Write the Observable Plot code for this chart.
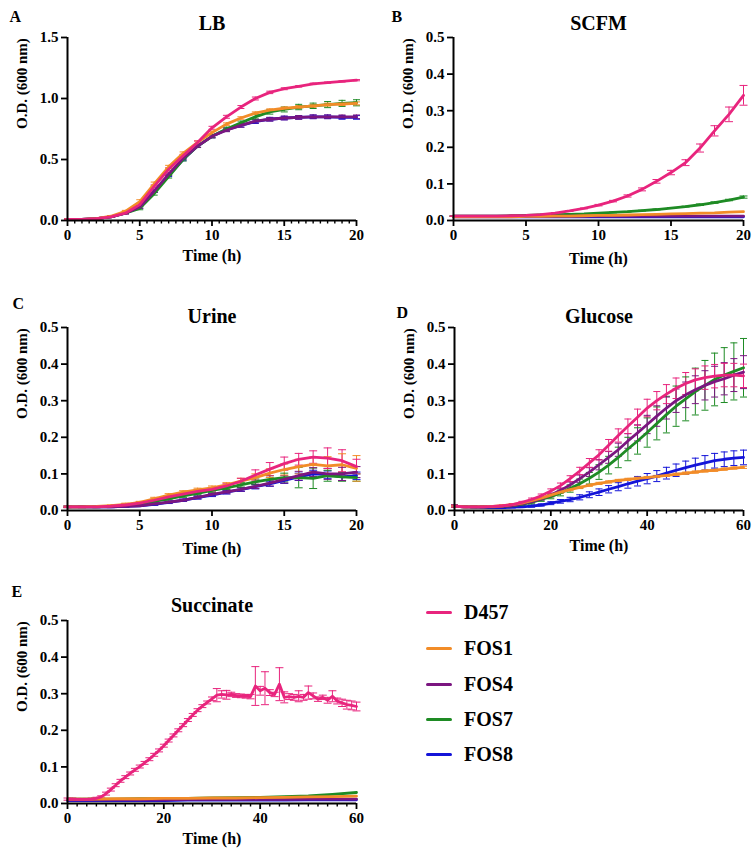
<!DOCTYPE html>
<html>
<head>
<meta charset="utf-8">
<script src="https://cdn.jsdelivr.net/npm/d3@7"></script>
<script src="https://cdn.jsdelivr.net/npm/@observablehq/plot@0.6"></script>
<style>
  html, body { margin: 0; padding: 0; background: #fff; }
  #root { position: relative; width: 752px; height: 853px; overflow: hidden; font-family: "Liberation Serif", "Times New Roman", Times, Tinos, "Nimbus Roman", "Nimbus Roman No9 L", "Noto Serif", "DejaVu Serif", FreeSerif, serif; font-weight: bold; color: #000; }
  .panel { position: absolute; }
  .legrow { position: absolute; left: 0; height: 24px; }
  .legline { position: absolute; left: 426px; width: 26px; height: 3px; border-radius: 2px; }
  .legtext { position: absolute; left: 464px; font-size: 20px; line-height: 24px; white-space: nowrap; font-weight: bold; }
</style>
</head>
<body>
<div id="root"></div>
<script>
// ---------- Data ----------
const series = ["D457", "FOS1", "FOS4", "FOS7", "FOS8"];
const seriesColors = ["#E8247D", "#F28C28", "#7B1680", "#1E8B24", "#1414D8"];

// Panel A: LB (hourly)
const tA = [0,1,2,3,4,5,6,7,8,9,10,11,12,13,14,15,16,17,18,19,20];
const A_D457 = [0.010,0.010,0.015,0.030,0.060,0.130,0.280,0.420,0.530,0.640,0.760,0.850,0.930,1.000,1.050,1.080,1.100,1.120,1.130,1.140,1.150];
const A_FOS1 = [0.010,0.010,0.015,0.035,0.075,0.155,0.300,0.440,0.550,0.640,0.720,0.790,0.840,0.880,0.905,0.920,0.930,0.940,0.950,0.955,0.960];
const A_FOS4 = [0.010,0.010,0.015,0.030,0.060,0.110,0.240,0.380,0.510,0.610,0.690,0.740,0.780,0.815,0.830,0.840,0.845,0.850,0.850,0.850,0.850];
const A_FOS7 = [0.010,0.010,0.015,0.030,0.060,0.100,0.220,0.360,0.500,0.610,0.690,0.750,0.800,0.850,0.890,0.910,0.930,0.940,0.950,0.960,0.965];
const A_FOS8 = [0.010,0.010,0.015,0.030,0.060,0.110,0.240,0.370,0.500,0.610,0.690,0.745,0.780,0.810,0.830,0.840,0.845,0.850,0.850,0.845,0.845];
const A_D457_err = [0.003,0.003,0.003,0.004,0.006,0.010,0.012,0.012,0.012,0.012,0.012,0.012,0.012,0.012,0.010,0.008,0.006,0.006,0.005,0.005,0.005];
const A_FOS1_err = [0.003,0.003,0.003,0.004,0.008,0.015,0.015,0.012,0.012,0.012,0.012,0.010,0.010,0.010,0.010,0.010,0.012,0.012,0.012,0.012,0.012];
const A_FOS4_err = [0.003,0.003,0.003,0.004,0.006,0.010,0.010,0.010,0.010,0.010,0.012,0.012,0.015,0.015,0.015,0.015,0.015,0.015,0.015,0.015,0.015];
const A_FOS7_err = [0.003,0.003,0.003,0.004,0.006,0.012,0.012,0.012,0.012,0.012,0.012,0.015,0.015,0.018,0.018,0.020,0.022,0.022,0.025,0.025,0.025];
const A_FOS8_err = [0.003,0.003,0.003,0.004,0.006,0.010,0.010,0.010,0.010,0.010,0.012,0.014,0.015,0.015,0.015,0.015,0.015,0.015,0.015,0.015,0.015];

// Panel B: SCFM (hourly)
const tB = [0,1,2,3,4,5,6,7,8,9,10,11,12,13,14,15,16,17,18,19,20];
const B_D457 = [0.012,0.012,0.012,0.012,0.013,0.014,0.016,0.020,0.026,0.033,0.042,0.053,0.067,0.085,0.107,0.131,0.158,0.198,0.245,0.290,0.342];
const B_FOS1 = [0.010,0.010,0.010,0.010,0.010,0.011,0.011,0.012,0.012,0.013,0.014,0.014,0.015,0.016,0.017,0.018,0.019,0.020,0.021,0.023,0.024];
const B_FOS4 = [0.012,0.012,0.012,0.012,0.012,0.012,0.012,0.012,0.012,0.012,0.012,0.012,0.012,0.012,0.012,0.012,0.012,0.012,0.012,0.012,0.012];
const B_FOS7 = [0.012,0.012,0.012,0.012,0.013,0.014,0.015,0.016,0.017,0.018,0.020,0.022,0.024,0.027,0.030,0.034,0.038,0.043,0.049,0.056,0.064];
const B_FOS8 = [0.010,0.010,0.010,0.010,0.010,0.010,0.010,0.010,0.010,0.010,0.010,0.010,0.010,0.010,0.010,0.010,0.010,0.010,0.010,0.010,0.010];
const B_D457_err = [0.001,0.001,0.001,0.001,0.001,0.001,0.001,0.001,0.001,0.001,0.002,0.002,0.003,0.004,0.005,0.006,0.008,0.011,0.014,0.020,0.027];
const B_FOS7_err = [0.001,0.001,0.001,0.001,0.001,0.001,0.001,0.001,0.001,0.001,0.001,0.001,0.001,0.001,0.001,0.001,0.001,0.002,0.002,0.002,0.003];

// Panel C: Urine (hourly)
const tC = [0,1,2,3,4,5,6,7,8,9,10,11,12,13,14,15,16,17,18,19,20];
const C_D457 = [0.010,0.010,0.010,0.012,0.015,0.020,0.028,0.037,0.045,0.052,0.058,0.067,0.080,0.097,0.113,0.128,0.140,0.146,0.143,0.136,0.120];
const C_FOS1 = [0.010,0.010,0.011,0.013,0.017,0.022,0.032,0.042,0.050,0.056,0.062,0.070,0.080,0.090,0.102,0.112,0.120,0.126,0.122,0.125,0.115];
const C_FOS4 = [0.010,0.010,0.010,0.010,0.011,0.013,0.018,0.023,0.028,0.036,0.044,0.051,0.058,0.066,0.075,0.085,0.095,0.105,0.100,0.100,0.105];
const C_FOS7 = [0.010,0.010,0.010,0.011,0.014,0.018,0.025,0.032,0.040,0.047,0.055,0.062,0.070,0.078,0.085,0.090,0.090,0.088,0.095,0.092,0.090];
const C_FOS8 = [0.010,0.010,0.010,0.010,0.011,0.013,0.017,0.022,0.028,0.035,0.042,0.050,0.057,0.065,0.073,0.082,0.092,0.100,0.098,0.092,0.095];
const C_D457_err = [0.002,0.002,0.002,0.002,0.003,0.003,0.003,0.004,0.004,0.004,0.005,0.006,0.008,0.014,0.018,0.018,0.016,0.017,0.028,0.030,0.020];
const C_FOS1_err = [0.002,0.002,0.002,0.002,0.003,0.003,0.004,0.004,0.004,0.005,0.005,0.006,0.008,0.010,0.012,0.015,0.020,0.020,0.025,0.030,0.035];
const C_FOS4_err = [0.002,0.002,0.002,0.002,0.002,0.002,0.003,0.003,0.003,0.004,0.004,0.005,0.005,0.006,0.008,0.010,0.012,0.012,0.015,0.018,0.015];
const C_FOS7_err = [0.002,0.002,0.002,0.002,0.002,0.003,0.003,0.003,0.004,0.004,0.005,0.005,0.006,0.008,0.010,0.012,0.028,0.028,0.015,0.012,0.010];
const C_FOS8_err = [0.002,0.002,0.002,0.002,0.002,0.002,0.003,0.003,0.003,0.004,0.004,0.005,0.005,0.006,0.007,0.008,0.010,0.010,0.010,0.010,0.010];

// Panel D: Glucose (every 2 h)
const tD = [0,2,4,6,8,10,12,14,16,18,20,22,24,26,28,30,32,34,36,38,40,42,44,46,48,50,52,54,56,58,60];
const D_D457 = [0.012,0.010,0.010,0.010,0.011,0.013,0.016,0.022,0.030,0.040,0.053,0.068,0.087,0.108,0.130,0.152,0.178,0.205,0.230,0.255,0.280,0.300,0.318,0.334,0.347,0.357,0.363,0.367,0.370,0.370,0.368];
const D_FOS1 = [0.012,0.010,0.010,0.010,0.011,0.013,0.016,0.020,0.027,0.034,0.042,0.050,0.057,0.063,0.069,0.074,0.078,0.082,0.085,0.088,0.090,0.093,0.096,0.099,0.102,0.105,0.108,0.110,0.113,0.116,0.118];
const D_FOS4 = [0.012,0.010,0.010,0.010,0.010,0.011,0.013,0.018,0.024,0.032,0.042,0.055,0.070,0.087,0.105,0.125,0.145,0.166,0.190,0.212,0.235,0.258,0.280,0.300,0.316,0.330,0.342,0.352,0.360,0.370,0.378];
const D_FOS7 = [0.012,0.010,0.010,0.010,0.010,0.011,0.013,0.017,0.022,0.030,0.038,0.048,0.060,0.073,0.088,0.105,0.124,0.145,0.168,0.190,0.213,0.238,0.262,0.285,0.305,0.325,0.342,0.358,0.370,0.380,0.390];
const D_FOS8 = [0.012,0.010,0.009,0.008,0.008,0.008,0.009,0.010,0.012,0.015,0.020,0.025,0.030,0.036,0.043,0.050,0.058,0.065,0.073,0.080,0.087,0.094,0.102,0.110,0.117,0.124,0.130,0.136,0.140,0.143,0.145];
const D_D457_err = [0.003,0.002,0.002,0.002,0.002,0.002,0.003,0.003,0.004,0.005,0.006,0.007,0.008,0.010,0.012,0.014,0.016,0.018,0.020,0.022,0.024,0.025,0.026,0.028,0.030,0.030,0.032,0.032,0.032,0.032,0.032];
const D_FOS1_err = [0.002,0.002,0.002,0.002,0.002,0.002,0.002,0.002,0.002,0.003,0.003,0.003,0.003,0.003,0.003,0.003,0.003,0.003,0.003,0.003,0.003,0.003,0.003,0.003,0.003,0.003,0.003,0.003,0.003,0.003,0.003];
const D_FOS4_err = [0.003,0.002,0.002,0.002,0.002,0.002,0.002,0.003,0.003,0.004,0.005,0.006,0.008,0.010,0.012,0.014,0.016,0.018,0.020,0.022,0.025,0.028,0.030,0.032,0.035,0.038,0.040,0.042,0.044,0.045,0.045];
const D_FOS7_err = [0.003,0.002,0.002,0.002,0.002,0.002,0.002,0.003,0.004,0.005,0.006,0.008,0.010,0.013,0.016,0.020,0.024,0.028,0.032,0.036,0.040,0.045,0.050,0.055,0.060,0.064,0.068,0.072,0.075,0.078,0.080];
const D_FOS8_err = [0.003,0.002,0.002,0.002,0.002,0.002,0.002,0.002,0.003,0.003,0.004,0.005,0.006,0.007,0.008,0.009,0.010,0.011,0.012,0.013,0.014,0.015,0.016,0.017,0.018,0.019,0.020,0.020,0.020,0.020,0.020];

// Panel E: Succinate
const tE = [0,1,2,3,4,5,6,7,8,9,10,11,12,13,14,15,16,17,18,19,20,21,22,23,24,25,26,27,28,29,30,31,32,33,34,35,36,37,38,39,40,41,42,43,44,45,46,47,48,49,50,51,52,53,54,55,56,57,58,59,60];
const E_D457 = [0.012,0.012,0.011,0.011,0.011,0.012,0.014,0.018,0.027,0.038,0.050,0.062,0.072,0.082,0.092,0.101,0.111,0.121,0.133,0.145,0.158,0.172,0.186,0.200,0.214,0.228,0.242,0.255,0.266,0.276,0.286,0.296,0.298,0.297,0.298,0.295,0.294,0.293,0.292,0.321,0.308,0.315,0.303,0.298,0.326,0.290,0.292,0.290,0.293,0.290,0.303,0.294,0.285,0.290,0.282,0.293,0.280,0.275,0.270,0.268,0.265];
const E_D457_err = [0.003,0.003,0.003,0.003,0.003,0.003,0.003,0.003,0.004,0.004,0.004,0.004,0.004,0.004,0.004,0.004,0.004,0.004,0.004,0.004,0.004,0.004,0.004,0.004,0.004,0.004,0.004,0.004,0.004,0.004,0.005,0.018,0.010,0.012,0.006,0.005,0.005,0.005,0.006,0.053,0.012,0.045,0.008,0.006,0.045,0.015,0.008,0.008,0.015,0.008,0.018,0.008,0.006,0.006,0.008,0.015,0.008,0.010,0.012,0.012,0.012];
const tE5 = [0,5,10,15,20,25,30,35,40,45,50,55,60];
const E_FOS1 = [0.012,0.012,0.013,0.013,0.014,0.014,0.015,0.015,0.016,0.017,0.018,0.019,0.020];
const E_FOS4 = [0.010,0.010,0.010,0.010,0.010,0.011,0.011,0.011,0.011,0.011,0.012,0.012,0.012];
const E_FOS7 = [0.012,0.012,0.012,0.013,0.013,0.014,0.015,0.016,0.017,0.019,0.021,0.025,0.030];
const E_FOS8 = [0.008,0.008,0.008,0.008,0.008,0.009,0.009,0.009,0.009,0.009,0.010,0.010,0.010];

// Axis ticks
const ticks20 = [0,5,10,15,20];
const minor20half = [0.5,1,1.5,2,2.5,3,3.5,4,4.5,5.5,6,6.5,7,7.5,8,8.5,9,9.5,10.5,11,11.5,12,12.5,13,13.5,14,14.5,15.5,16,16.5,17,17.5,18,18.5,19,19.5];
const ticks60 = [0,20,40,60];
const minor60 = [2,4,6,8,10,12,14,16,18,22,24,26,28,30,32,34,36,38,42,44,46,48,50,52,54,56,58];
const yTicksLB = [0,0.5,1.0,1.5];
const yTicks05 = [0,0.1,0.2,0.3,0.4,0.5];

// ---------- Drawing ----------
const FONT = "'Liberation Serif', 'Times New Roman', Times, Tinos, 'Nimbus Roman', 'Nimbus Roman No9 L', 'Noto Serif', 'DejaVu Serif', FreeSerif, serif";
const capSymbol = {
  draw(context, size) {
    const r = Math.sqrt(size / Math.PI);
    context.moveTo(-r, 0);
    context.lineTo(r, 0);
  }
};

function buildRows(list) {
  const rows = [];
  for (const item of list.slice().reverse()) {
    item.t.forEach((t, i) => rows.push({s: item.s, t, v: item.v[i], e: item.e ? item.e[i] : 0}));
  }
  return rows;
}

function makePanel(cfg) {
  const rows = buildRows(cfg.series);
  const errRows = rows.filter(d => d.e > 0);
  const plot = Plot.plot({
    width: 376,
    height: cfg.height,
    marginLeft: cfg.ml, marginRight: cfg.mr, marginTop: cfg.mt, marginBottom: cfg.mb,
    style: {fontFamily: FONT, fontWeight: "bold", fontSize: "14px", color: "#000", background: "#fff", overflow: "visible"},
    x: {domain: cfg.xDomain, axis: null},
    y: {domain: cfg.yDomain, axis: null},
    color: {domain: series, range: seriesColors},
    marks: [
      Plot.ruleX(errRows, {x: "t", y1: d => d.v - d.e, y2: d => d.v + d.e, stroke: "s", strokeWidth: 1}),
      Plot.dot(errRows, {x: "t", y: d => d.v + d.e, symbol: capSymbol, r: cfg.cap, stroke: "s", fill: "none", strokeWidth: 1}),
      Plot.dot(errRows, {x: "t", y: d => d.v - d.e, symbol: capSymbol, r: cfg.cap, stroke: "s", fill: "none", strokeWidth: 1}),
      Plot.line(rows, {x: "t", y: "v", z: "s", stroke: "s", strokeWidth: 2.8}),
      Plot.ruleX([cfg.xDomain[0]], {stroke: "#000", strokeWidth: 2}),
      Plot.ruleY([cfg.yDomain[0]], {stroke: "#000", strokeWidth: 2}),
      Plot.axisY(cfg.yTicks, {tickSize: 6, tickPadding: 3, tickFormat: d3.format(".1f"), strokeWidth: 1.8, fontSize: 15, fontFamily: FONT, fontWeight: "bold", label: null}),
      Plot.axisX(cfg.xTicks, {tickSize: 6, tickPadding: 3, tickFormat: d => String(d), strokeWidth: 1.8, fontSize: 15, fontFamily: FONT, fontWeight: "bold", label: null}),
      cfg.xMinor ? Plot.axisX(cfg.xMinor, {tickSize: 3.5, tickFormat: () => "", strokeWidth: 1.4, label: null}) : null,
      Plot.text(["O.D. (600 nm)"], {frameAnchor: "left", rotate: -90, dx: -45, fontSize: 15, fontWeight: "bold", fontFamily: FONT, fill: "#000"}),
      Plot.text(["Time (h)"], {frameAnchor: "bottom", dy: cfg.xlabDy, fontSize: 16, fontWeight: "bold", fontFamily: FONT, fill: "#000"}),
      Plot.text([cfg.title], {frameAnchor: "top", dy: cfg.titleDy, fontSize: 20, fontWeight: "bold", fontFamily: FONT, fill: "#000"}),
      Plot.text([cfg.letter], {frameAnchor: "top-left", dx: cfg.letterDx, dy: cfg.letterDy, fontSize: 16, fontWeight: "bold", fontFamily: FONT, fill: "#000"})
    ]
  });
  const div = document.createElement("div");
  div.className = "panel";
  div.style.left = cfg.left + "px";
  div.style.top = cfg.top + "px";
  div.appendChild(plot);
  document.getElementById("root").appendChild(div);
}

// Panel A
makePanel({
  left: 0, top: 0, height: 280, ml: 67, mr: 20, mt: 37, mb: 60,
  xDomain: [0, 20], yDomain: [0, 1.5], xTicks: ticks20, xMinor: minor20half, yTicks: yTicksLB,
  title: "LB", titleDy: -22, letter: "A", letterDx: -58, letterDy: -27, xlabDy: 40, cap: 3.5,
  series: [
    {s: "D457", t: tA, v: A_D457, e: A_D457_err},
    {s: "FOS1", t: tA, v: A_FOS1, e: A_FOS1_err},
    {s: "FOS4", t: tA, v: A_FOS4, e: A_FOS4_err},
    {s: "FOS7", t: tA, v: A_FOS7, e: A_FOS7_err},
    {s: "FOS8", t: tA, v: A_FOS8, e: A_FOS8_err}
  ]
});

// Panel B
makePanel({
  left: 376, top: 0, height: 280, ml: 77, mr: 9, mt: 37, mb: 60,
  xDomain: [0, 20], yDomain: [0, 0.5], xTicks: ticks20, xMinor: null, yTicks: yTicks05,
  title: "SCFM", titleDy: -22, letter: "B", letterDx: -62, letterDy: -27, xlabDy: 43, cap: 4,
  series: [
    {s: "D457", t: tB, v: B_D457, e: B_D457_err},
    {s: "FOS1", t: tB, v: B_FOS1, e: null},
    {s: "FOS4", t: tB, v: B_FOS4, e: null},
    {s: "FOS7", t: tB, v: B_FOS7, e: B_FOS7_err},
    {s: "FOS8", t: tB, v: B_FOS8, e: null}
  ]
});

// Panel C
makePanel({
  left: 0, top: 280, height: 290, ml: 67, mr: 20, mt: 47, mb: 60,
  xDomain: [0, 20], yDomain: [0, 0.5], xTicks: ticks20, xMinor: null, yTicks: yTicks05,
  title: "Urine", titleDy: -19, letter: "C", letterDx: -55, letterDy: -30, xlabDy: 43, cap: 4,
  series: [
    {s: "D457", t: tC, v: C_D457, e: C_D457_err},
    {s: "FOS1", t: tC, v: C_FOS1, e: C_FOS1_err},
    {s: "FOS4", t: tC, v: C_FOS4, e: C_FOS4_err},
    {s: "FOS7", t: tC, v: C_FOS7, e: C_FOS7_err},
    {s: "FOS8", t: tC, v: C_FOS8, e: C_FOS8_err}
  ]
});

// Panel D
makePanel({
  left: 376, top: 280, height: 290, ml: 78, mr: 9, mt: 47, mb: 60,
  xDomain: [0, 60], yDomain: [0, 0.5], xTicks: ticks60, xMinor: minor60, yTicks: yTicks05,
  title: "Glucose", titleDy: -19, letter: "D", letterDx: -58, letterDy: -21, xlabDy: 40, cap: 3.5,
  series: [
    {s: "D457", t: tD, v: D_D457, e: D_D457_err},
    {s: "FOS1", t: tD, v: D_FOS1, e: D_FOS1_err},
    {s: "FOS4", t: tD, v: D_FOS4, e: D_FOS4_err},
    {s: "FOS7", t: tD, v: D_FOS7, e: D_FOS7_err},
    {s: "FOS8", t: tD, v: D_FOS8, e: D_FOS8_err}
  ]
});

// Panel E
makePanel({
  left: 0, top: 570, height: 283, ml: 67, mr: 20, mt: 50, mb: 50,
  xDomain: [0, 60], yDomain: [0, 0.5], xTicks: ticks60, xMinor: minor60, yTicks: yTicks05,
  title: "Succinate", titleDy: -23, letter: "E", letterDx: -56, letterDy: -35, xlabDy: 40, cap: 4,
  series: [
    {s: "D457", t: tE, v: E_D457, e: E_D457_err},
    {s: "FOS1", t: tE5, v: E_FOS1, e: null},
    {s: "FOS4", t: tE5, v: E_FOS4, e: null},
    {s: "FOS7", t: tE5, v: E_FOS7, e: null},
    {s: "FOS8", t: tE5, v: E_FOS8, e: null}
  ]
});

// Legend
const legendRowsY = [612, 648, 684, 719, 754];
series.forEach((s, i) => {
  const row = document.createElement("div");
  row.className = "legrow";
  row.style.top = (legendRowsY[i] - 12) + "px";
  const line = document.createElement("div");
  line.className = "legline";
  line.style.top = "10.5px";
  line.style.background = seriesColors[i];
  const txt = document.createElement("div");
  txt.className = "legtext";
  txt.style.top = "0px";
  txt.textContent = s;
  row.appendChild(line);
  row.appendChild(txt);
  document.getElementById("root").appendChild(row);
});
</script>
</body>
</html>
